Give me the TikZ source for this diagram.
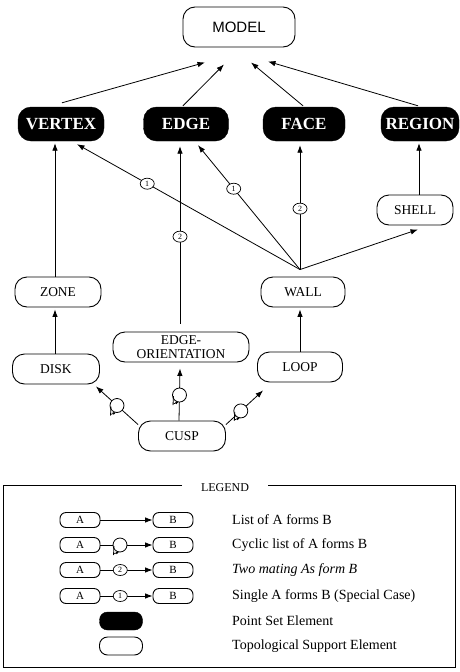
\documentclass[tikz,border=0pt]{standalone}
\usepackage{fontspec}
\setmainfont{Liberation Serif}
\setsansfont{Liberation Sans}
\usetikzlibrary{arrows.meta,calc,shapes.geometric}
\begin{document}
\begin{tikzpicture}[x=1pt,y=-1pt,
  box/.style={draw, line width=0.9pt, rounded corners=12pt, minimum height=30pt, inner sep=1pt,
    font=\fontsize{13.5}{13.5}\selectfont, align=center},
  dark/.style={draw=black, fill=black, rounded corners=13pt, minimum height=34pt, inner sep=1pt,
    text=white, font=\bfseries\fontsize{17}{17}\selectfont},
  arr/.style={-{Latex[length=7.5pt,width=5.5pt]}, line width=0.8pt},
  ln/.style={line width=0.8pt},
  num/.style={draw, ellipse, fill=white, line width=0.7pt, minimum width=14pt, minimum height=11pt,
    inner sep=0pt, font=\fontsize{8}{8}\selectfont},
  lbox/.style={draw, line width=0.9pt, rounded corners=6pt, minimum width=40pt, minimum height=15pt,
    inner sep=0pt, font=\fontsize{11}{11}\selectfont},
  ltext/.style={anchor=west, inner sep=0pt, font=\fontsize{14}{14}\selectfont},
  cyc/.pic={
    \draw[line width=0.8pt, fill=white] (0,0) circle (7pt);
    \draw[line width=0.8pt] (-6,1) -- (-6.5,10);
    \draw[line width=0.7pt,-{Latex[length=3pt,width=3pt]}] (-6.5,9) -- (-1,7);
  }
]
\useasboundingbox (0,0) rectangle (460,672);

% nodes
\node[box, minimum width=112pt, minimum height=40pt, font=\sffamily\fontsize{15}{15}\selectfont] (model) at (239,27) {MODEL};
\node[dark, minimum width=86pt] (vertex) at (61,124) {VERTEX};
\node[dark, minimum width=85pt] (edge) at (186,124) {EDGE};
\node[dark, minimum width=82pt] (face) at (304,124) {FACE};
\node[dark, minimum width=78pt] (region) at (420,124) {REGION};
\node[box, minimum width=76pt] (shell) at (415,210) {SHELL};
\node[box, minimum width=86pt] (zone) at (58,292) {ZONE};
\node[box, minimum width=84pt] (wall) at (303,292) {WALL};
\node[box, minimum width=136pt] (eo) at (181,347) {EDGE-\\ORIENTATION};
\node[box, minimum width=87pt] (disk) at (56,369) {DISK};
\node[box, minimum width=85pt] (loop) at (300,367) {LOOP};
\node[box, minimum width=87pt] (cusp) at (182,436) {CUSP};

% to model
\draw[arr] ([xshift=1pt,yshift=4pt]vertex.north) -- ([xshift=-34pt,yshift=-15pt]model.south);
\draw[arr] ([xshift=-3pt,yshift=1pt]edge.north) -- ([xshift=-15pt,yshift=-17pt]model.south);
\draw[arr] ([xshift=-1pt,yshift=1pt]face.north) -- ([xshift=12pt,yshift=-15pt]model.south);
\draw[arr] ([xshift=-2pt,yshift=1pt]region.north) -- ([xshift=29pt,yshift=-14pt]model.south);

% verticals
\draw[arr] ([xshift=-3pt]zone.north) -- ([xshift=-6pt,yshift=-2pt]vertex.south);
\draw[arr] ([xshift=-1pt]disk.north) -- ([xshift=-3pt,yshift=-2pt]zone.south);
\draw[arr] (loop.north) -- ([xshift=-3pt,yshift=-2pt]wall.south);
\draw[arr] ([xshift=4pt]shell.north) -- ([xshift=-1pt,yshift=-2pt]region.south);

% wall fan
\coordinate (wt) at ([xshift=-3pt,yshift=7pt]wall.north);
\draw[arr] (wt) -- node[num,pos=0.685]{1} ([xshift=16pt,yshift=-3pt]vertex.south);
\draw[arr] (wt) -- node[num,pos=0.65]{1} ([xshift=12pt,yshift=-4pt]edge.south);
\draw[arr] (wt) -- node[num,pos=0.49]{2} ([xshift=-4pt,yshift=-4pt]face.south);
\draw[arr] (wt) -- ([xshift=3pt,yshift=-4pt]shell.south);
\draw[arr] ([xshift=-1pt,yshift=8pt]eo.north) -- node[num,pos=0.49]{2} ([xshift=-6pt,yshift=-5pt]edge.south);

% cusp edges
\coordinate (c1s) at ([yshift=-4pt]cusp.north west);
\coordinate (c1e) at ([xshift=-4pt,yshift=-2pt]disk.south east);
\coordinate (c2s) at ([xshift=-3pt]cusp.north);
\coordinate (c2e) at ([xshift=-1pt,yshift=-6pt]eo.south);
\coordinate (c3s) at ([yshift=-4pt]cusp.north east);
\coordinate (c3e) at ([xshift=6pt,yshift=-8pt]loop.south west);
\draw[arr] (c1s) -- (c1e);
\draw[arr] (c2s) -- (c2e);
\draw[arr] (c3s) -- (c3e);
\path ($(c1s)!0.5!(c1e)$) pic {cyc};
\path ($(c2s)!0.49!(c2e)$) pic {cyc};
\path ($(c3s)!0.4!(c3e)$) pic {cyc};

% legend
\node[inner sep=0pt, font=\fontsize{12}{12}\selectfont] (legend) at (225,488) {LEGEND};
\draw[line width=0.8pt] (182,485) -- (3,485) -- (3,667) -- (455,667) -- (455,485) -- (268,485);

\node[lbox] (a1) at (80,520) {A}; \node[lbox] (b1) at (173,520) {B};
\node[lbox] (a2) at (80,545) {A}; \node[lbox] (b2) at (173,545) {B};
\node[lbox] (a3) at (80,570) {A}; \node[lbox] (b3) at (173,570) {B};
\node[lbox] (a4) at (80,596) {A}; \node[lbox] (b4) at (173,596) {B};
\draw[arr] (a1) -- (b1);
\draw[arr] (a2) -- (b2);
\path (120,545) pic {cyc};
\draw[arr] (a3) -- node[num,pos=0.38]{2} (b3);
\draw[arr] (a4) -- node[num,pos=0.38]{1} (b4);
\node[dark, minimum width=43pt, minimum height=18pt, rounded corners=8pt] (ps) at (121,621) {};
\node[box, minimum width=43pt, minimum height=18pt, rounded corners=8pt] (ts) at (121,646) {};

\node[ltext] (t1) at (232,520) {List of A forms B};
\node[ltext] (t2) at (232,545) {Cyclic list of A forms B};
\node[ltext] (t3) at (232,570) {\itshape Two mating As form B};
\node[ltext] (t4) at (232,596) {Single A forms B (Special Case)};
\node[ltext] (t5) at (232,621) {Point Set Element};
\node[ltext] (t6) at (232,646) {Topological Support Element};
\end{tikzpicture}
\end{document}
